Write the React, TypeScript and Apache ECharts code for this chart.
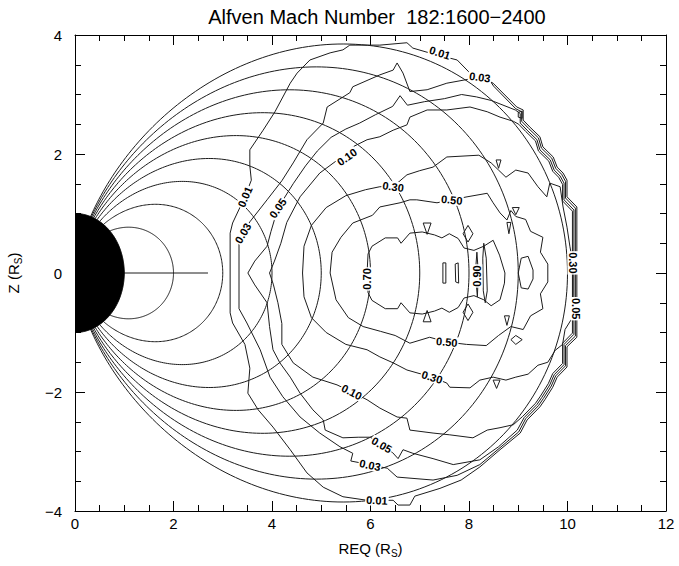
import { useEffect, useRef } from 'react';
import * as echarts from 'echarts';

type Pt = [number, number];

const titleText = 'Alfven Mach Number  182:1600\u22122400';
const xRange = [0, 12];
const yRange = [-4, 4];
const tickStep = 2;

// Dipole field lines, labelled by equatorial crossing distance L (R_S)
const fieldShells = [2, 3, 4, 5, 6, 7, 8, 9, 10];
const planetRadius = 1;
const equatorSegment: Pt[] = [[1.0, 0], [2.7, 0]];

// Alfven Mach number contours (REQ, Z) in R_S
const contour001: Pt[] = [
  [3.15, 0], [3.15, 0.67], [3.2, 0.84], [3.45, 1.28], [3.58, 1.56], [3.55, 1.8], [3.55, 2.07],
  [3.82, 2.4], [4.06, 2.71], [4.37, 3.19], [4.51, 3.36], [4.77, 3.58], [5.18, 3.7], [5.44, 3.75],
  [5.58, 3.83], [6.19, 3.83], [6.74, 3.87], [6.86, 3.78], [7.15, 3.71], [7.76, 3.58], [8.02, 3.36],
  [8.22, 3.3], [8.49, 3.19], [8.97, 2.79], [9.1, 2.74], [9.1, 2.57], [9.24, 2.45], [9.44, 2.29],
  [9.5, 2.12], [9.71, 1.95], [9.79, 1.78], [9.91, 1.68], [9.99, 1.56], [9.99, 1.28], [10.19, 1.11],
  [10.19, -1.08], [9.99, -1.24], [9.99, -1.58], [9.79, -1.75], [9.7, -1.92], [9.54, -2.13],
  [9.44, -2.25], [9.18, -2.47], [9.04, -2.69], [8.63, -2.97], [8.22, -3.26], [7.84, -3.48],
  [7.41, -3.62], [6.9, -3.75], [6.8, -3.9], [6.56, -3.9], [6.46, -3.82], [5.93, -3.82],
  [5.44, -3.76], [5.04, -3.6], [4.71, -3.36], [4.37, -2.97], [4.02, -2.59], [3.72, -2.3],
  [3.51, -2.02], [3.55, -1.6], [3.45, -1.2], [3.2, -0.84], [3.15, -0.67], [3.15, 0],
];

const contour003: Pt[] = [
  [3.33, 0], [3.33, 0.55], [3.41, 0.67], [3.55, 0.86], [3.9, 1.23], [4.2, 1.55], [4.43, 1.85],
  [4.71, 2.24], [5.04, 2.52], [5.12, 2.79], [5.58, 3.03], [5.64, 3.13], [6.19, 3.33], [6.46, 3.41],
  [6.54, 3.53], [6.66, 3.36], [6.8, 3.05], [7.15, 3.08], [7.55, 3.19], [7.88, 3.24], [8.22, 3.29],
  [8.37, 3.3], [8.5, 3.14], [8.95, 2.76], [9.07, 2.71], [9.07, 2.55], [9.21, 2.43], [9.41, 2.27],
  [9.47, 2.1], [9.68, 1.93], [9.76, 1.76], [9.88, 1.66], [9.96, 1.54], [9.96, 1.26], [10.16, 1.09],
  [10.16, -1.06], [9.96, -1.22], [9.96, -1.56], [9.76, -1.73], [9.67, -1.9], [9.51, -2.11],
  [9.41, -2.23], [9.15, -2.45], [9.01, -2.67], [8.61, -2.95], [8.22, -3.22], [7.76, -3.4],
  [7.27, -3.48], [6.54, -3.43], [6.34, -3.28], [5.99, -3.23], [5.79, -3.19], [5.6, -3.16],
  [5.64, -3.03], [5.38, -2.92], [4.97, -2.69], [4.57, -2.42], [4.22, -2.08], [3.96, -1.75],
  [3.76, -1.29], [3.49, -0.84], [3.33, -0.6], [3.33, 0],
];

const contour005: Pt[] = [
  [3.51, 0], [3.65, 0.2], [3.9, 0.45], [3.98, 0.7], [4.12, 1.09], [4.43, 1.5], [4.68, 1.8],
  [4.92, 2.05], [5.2, 2.28], [5.5, 2.42], [5.78, 2.52], [6.1, 2.66], [6.45, 2.8], [6.6, 2.98],
  [6.75, 2.82], [7.1, 2.88], [7.5, 2.93], [7.85, 3.0], [8.15, 2.96], [8.45, 2.9], [8.94, 2.74],
  [9.04, 2.68], [9.04, 2.52], [9.18, 2.4], [9.38, 2.24], [9.44, 2.07], [9.65, 1.9], [9.73, 1.73],
  [9.85, 1.63], [9.93, 1.51], [9.93, 1.23], [10.13, 1.06], [10.13, -1.03], [9.93, -1.2],
  [9.93, -1.54], [9.73, -1.71], [9.64, -1.88], [9.48, -2.09], [9.38, -2.21], [9.12, -2.43],
  [8.98, -2.64], [8.6, -2.92], [8.22, -3.14], [7.68, -3.22], [7.27, -3.12], [6.86, -3.03],
  [6.66, -2.97], [6.56, -3.12], [6.45, -3.02], [6.23, -2.89], [6.0, -2.76], [5.75, -2.76],
  [5.44, -2.77], [5.08, -2.64], [5.04, -2.47], [4.83, -2.3], [4.57, -2.02], [4.37, -1.75],
  [4.16, -1.51], [4.02, -1.29], [3.95, -0.9], [3.9, -0.5], [3.65, -0.2], [3.51, 0],
];

const contour010: Pt[] = [
  [3.95, 0], [4.05, 0.2], [4.18, 0.5], [4.3, 0.85], [4.57, 1.28], [4.97, 1.68], [5.38, 1.93],
  [5.52, 1.95], [5.64, 2.12], [5.93, 2.24], [6.19, 2.29], [6.46, 2.4], [6.74, 2.49], [6.8, 2.62],
  [7.15, 2.74], [7.55, 2.74], [8.02, 2.79], [8.37, 2.71], [8.63, 2.62], [8.9, 2.55], [9.01, 2.5],
  [9.15, 2.38], [9.35, 2.22], [9.41, 2.05], [9.62, 1.88], [9.7, 1.71], [9.82, 1.61], [9.9, 1.49],
  [9.9, 1.21], [10.1, 1.04], [10.1, -1.01], [9.9, -1.18], [9.9, -1.52], [9.7, -1.69],
  [9.61, -1.86], [9.45, -2.07], [9.35, -2.19], [9.09, -2.41], [8.9, -2.55], [8.63, -2.6],
  [8.37, -2.64], [8.08, -2.77], [7.61, -2.72], [7.27, -2.69], [6.8, -2.64], [6.74, -2.44],
  [6.54, -2.42], [6.19, -2.27], [5.93, -2.13], [5.62, -2.0], [5.32, -1.88], [4.83, -1.75],
  [4.43, -1.51], [4.2, -1.2], [4.2, -0.85], [4.12, -0.5], [4.03, -0.2], [3.95, 0],
];

const contour030: Pt[] = [
  [4.62, 0], [4.65, 0.45], [4.8, 0.8], [5.1, 1.1], [5.5, 1.3], [5.9, 1.4], [6.19, 1.45],
  [6.46, 1.45], [6.74, 1.65], [7.0, 1.72], [7.27, 1.78], [7.55, 1.95], [8.2, 1.98], [8.45, 1.85],
  [8.6, 1.73], [8.75, 1.61], [8.95, 1.73], [9.2, 1.68], [9.4, 1.45], [9.58, 1.28], [9.64, 1.51],
  [9.85, 1.45], [9.91, 1.11], [9.99, 0.77], [10.05, 0.44], [10.11, 0.17], [10.11, -0.3],
  [10.1, -0.75], [9.95, -0.95], [9.9, -1.2], [9.75, -1.3], [9.6, -1.5], [9.4, -1.55],
  [9.2, -1.7], [8.95, -1.75], [8.75, -1.8], [8.49, -1.75], [8.22, -1.8], [8.02, -1.93],
  [7.61, -1.92], [7.55, -1.85], [7.25, -1.75], [6.74, -1.63], [6.46, -1.51], [6.19, -1.41],
  [5.93, -1.29], [5.5, -1.2], [5.1, -1.0], [4.8, -0.75], [4.65, -0.4], [4.62, 0],
];

const contour050: Pt[] = [
  [5.18, 0], [5.22, 0.35], [5.4, 0.6], [5.64, 0.84], [6.04, 0.97], [6.19, 1.11], [6.6, 1.18],
  [6.8, 1.23], [6.94, 1.23], [7.35, 1.18], [7.65, 1.23], [7.96, 1.28], [8.37, 1.34], [8.49, 1.18],
  [8.63, 1.01], [8.77, 0.89], [8.85, 1.05], [8.95, 0.95], [9.15, 0.9], [9.25, 0.7], [9.5, 0.6],
  [9.45, 0.35], [9.6, 0.15], [9.6, -0.15], [9.45, -0.35], [9.5, -0.6], [9.25, -0.72],
  [9.1, -0.95], [8.85, -0.9], [8.6, -1.05], [8.35, -1.22], [7.95, -1.2], [7.55, -1.16],
  [7.2, -1.08], [6.8, -1.18], [6.5, -1.05], [6.2, -0.98], [5.85, -0.9], [5.55, -0.75],
  [5.3, -0.45], [5.18, 0],
];

const contour070: Pt[] = [
  [5.93, 0], [5.95, 0.32], [6.03, 0.45], [6.3, 0.59], [6.55, 0.59], [6.62, 0.5], [6.8, 0.67],
  [7.05, 0.69], [7.3, 0.64], [7.45, 0.59], [7.6, 0.66], [7.78, 0.58], [7.9, 0.42], [8.1, 0.38],
  [8.3, 0.45], [8.49, 0.55], [8.62, 0.3], [8.73, 0.0], [8.72, -0.17], [8.63, -0.45],
  [8.45, -0.55], [8.3, -0.45], [8.1, -0.38], [7.9, -0.42], [7.78, -0.58], [7.6, -0.66],
  [7.45, -0.59], [7.3, -0.64], [7.05, -0.69], [6.8, -0.67], [6.62, -0.5], [6.55, -0.6],
  [6.3, -0.6], [6.03, -0.46], [5.95, -0.33], [5.93, 0],
];

const contour090: Pt[][] = [
  [[7.47, 0.17], [7.53, 0.17], [7.53, -0.17], [7.47, -0.17], [7.47, 0.17]],
  [[7.72, 0.15], [7.78, 0.17], [7.79, -0.17], [7.73, -0.15], [7.72, 0.15]],
  [[8.16, 0.35], [8.19, 0.0], [8.17, -0.4], [8.13, 0.0], [8.16, 0.35]],
  [[8.3, 0.5], [8.35, 0.25], [8.37, -0.3], [8.33, -0.5], [8.29, -0.3], [8.28, 0.25], [8.3, 0.5]],
];

// small closed contour islands in the outer magnetosphere
const islands: Pt[][] = [
  [[7.07, 0.84], [7.23, 0.84], [7.15, 0.65], [7.07, 0.84]],
  [[7.07, -0.82], [7.23, -0.82], [7.15, -0.63], [7.07, -0.82]],
  [[7.98, 0.8], [8.08, 0.66], [7.98, 0.52], [7.88, 0.66], [7.98, 0.8]],
  [[7.98, -0.52], [8.08, -0.66], [7.98, -0.8], [7.88, -0.66], [7.98, -0.52]],
  [[9.06, 0.25], [9.2, 0.28], [9.3, 0.05], [9.3, -0.1], [9.2, -0.27], [9.06, -0.25], [9.0, 0.0], [9.06, 0.25]],
  [[8.55, 1.9], [8.65, 1.9], [8.6, 1.76], [8.55, 1.9]],
  [[8.88, 1.1], [9.02, 1.1], [8.95, 0.98], [8.88, 1.1]],
  [[8.77, 0.85], [8.85, 0.85], [8.81, 0.66], [8.77, 0.85]],
  [[8.72, -0.72], [8.82, -0.72], [8.77, -0.88], [8.72, -0.72]],
  [[8.85, -1.12], [8.95, -1.05], [9.08, -1.12], [8.95, -1.2], [8.85, -1.12]],
  [[8.49, -1.8], [8.63, -1.8], [8.56, -1.94], [8.49, -1.8]],
  [[9.0, 2.7], [9.08, 2.72], [9.08, 2.6], [9.0, 2.62], [9.0, 2.7]],
  [[10.12, -0.45], [10.25, -0.5], [10.22, -0.68], [10.12, -0.64], [10.12, -0.45]],
];

// contour labels: text, REQ, Z, text angle (deg)
const contourLabels: [string, number, number, number][] = [
  ['0.01', 3.45, 1.28, 67],
  ['0.03', 3.41, 0.67, 60],
  ['0.05', 4.12, 1.09, 55],
  ['0.10', 5.52, 1.95, 35],
  ['0.30', 6.46, 1.45, -8],
  ['0.50', 7.65, 1.23, -6],
  ['0.01', 7.41, 3.7, -18],
  ['0.03', 8.22, 3.29, -8],
  ['0.70', 5.93, -0.1, 90],
  ['0.90', 8.16, -0.05, 90],
  ['0.30', 10.11, 0.17, -90],
  ['0.10', 5.62, -2.0, -27],
  ['0.05', 6.23, -2.89, -30],
  ['0.03', 5.99, -3.23, -12],
  ['0.01', 6.13, -3.82, -3],
  ['0.30', 7.25, -1.75, -18],
  ['0.50', 7.55, -1.16, -5],
  ['0.05', 10.17, -0.6, -90],
];

const FONT = '"Liberation Sans", Arial, Helvetica, sans-serif';
const LINE = '#1c1c1c';

const clipTo = (params: any) => {
  const cs = params.coordSys;
  return { type: 'rect', shape: { x: cs.x, y: cs.y, width: cs.width, height: cs.height } };
};

function ringSeries(rings: Pt[][], z: number, width = 1) {
  return {
    type: 'custom',
    coordinateSystem: 'cartesian2d',
    silent: true,
    z,
    data: rings.map((r, i) => [r[0][0], r[0][1], i]),
    renderItem: (params: any, api: any) => {
      const ring = rings[params.dataIndex];
      return {
        type: 'group',
        clipPath: clipTo(params),
        children: [
          {
            type: 'polyline',
            shape: { points: ring.map((p) => api.coord(p)) },
            style: { stroke: LINE, lineWidth: width, fill: null },
          },
        ],
      };
    },
  };
}

const fieldSeries = {
  type: 'custom',
  coordinateSystem: 'cartesian2d',
  silent: true,
  z: 2,
  data: fieldShells.map((L) => [L, 0]),
  renderItem: (params: any, api: any) => {
    const L = fieldShells[params.dataIndex];
    // dipole line r = L cos^2(lat), from one footprint on the planet to the other
    const lat0 = Math.acos(Math.sqrt(planetRadius / L));
    const pts: number[][] = [];
    const n = 240;
    for (let k = 0; k <= n; k++) {
      const lat = -lat0 + (2 * lat0 * k) / n;
      const r = L * Math.cos(lat) * Math.cos(lat);
      pts.push(api.coord([r * Math.cos(lat), r * Math.sin(lat)]));
    }
    return {
      type: 'group',
      clipPath: clipTo(params),
      children: [{ type: 'polyline', shape: { points: pts }, style: { stroke: LINE, lineWidth: 1, fill: null } }],
    };
  },
};

const planetSeries = {
  type: 'custom',
  coordinateSystem: 'cartesian2d',
  silent: true,
  z: 6,
  data: [[0, 0, planetRadius]],
  renderItem: (params: any, api: any) => {
    const pts: number[][] = [];
    for (let k = 0; k <= 180; k++) {
      const a = -Math.PI / 2 + (Math.PI * k) / 180;
      pts.push(api.coord([planetRadius * Math.cos(a), planetRadius * Math.sin(a)]));
    }
    pts.push(api.coord([0, -planetRadius]));
    return {
      type: 'group',
      clipPath: clipTo(params),
      children: [{ type: 'polygon', shape: { points: pts }, style: { fill: '#000', stroke: '#000', lineWidth: 1 } }],
    };
  },
};

const labelSeries = {
  type: 'custom',
  coordinateSystem: 'cartesian2d',
  silent: true,
  z: 8,
  data: contourLabels.map((l) => [l[1], l[2]]),
  renderItem: (params: any, api: any) => {
    const [text, x, z, angle] = contourLabels[params.dataIndex];
    const [px, py] = api.coord([x, z]);
    return {
      type: 'text',
      x: px,
      y: py,
      rotation: (angle * Math.PI) / 180,
      style: {
        text,
        fill: '#000',
        font: `bold 11px ${FONT}`,
        align: 'center',
        verticalAlign: 'middle',
        textAlign: 'center',
        textVerticalAlign: 'middle',
        backgroundColor: '#fff',
        padding: [0, 1],
      },
    };
  },
};

const axisCommon = {
  type: 'value',
  interval: tickStep,
  axisLine: { show: true, onZero: false, lineStyle: { color: '#000', width: 1 } },
  axisTick: { show: true, inside: true, length: 10, lineStyle: { color: '#000', width: 1 } },
  minorTick: { show: true, splitNumber: 4, length: 6, lineStyle: { color: '#000', width: 1 } },
  splitLine: { show: false },
};

const tickLabel = (v: number) => (v < 0 ? `\u2212${Math.abs(v)}` : String(v));

const option = {
  animation: false,
  backgroundColor: '#fff',
  title: {
    text: titleText,
    left: 372,
    textAlign: 'center',
    top: 2,
    textStyle: { fontFamily: FONT, fontSize: 20, fontWeight: 'normal', color: '#000' },
  },
  grid: { left: 75, top: 35, right: 13, bottom: 55, containLabel: false, outerBoundsMode: 'none' },
  xAxis: [
    {
      ...axisCommon,
      position: 'bottom',
      min: xRange[0],
      max: xRange[1],
      axisLabel: { color: '#000', fontFamily: FONT, fontSize: 15, margin: 5, formatter: tickLabel },
      name: 'REQ (R{s|S})',
      nameLocation: 'middle',
      nameGap: 28,
      nameTextStyle: {
        color: '#000',
        fontFamily: FONT,
        fontSize: 15,
        rich: { s: { fontFamily: FONT, fontSize: 10, color: '#000', padding: [9, 0, 0, 0] } },
      },
    },
    {
      ...axisCommon,
      position: 'top',
      min: xRange[0],
      max: xRange[1],
      axisLabel: { show: false },
    },
  ],
  yAxis: [
    {
      ...axisCommon,
      position: 'left',
      min: yRange[0],
      max: yRange[1],
      axisLabel: { color: '#000', fontFamily: FONT, fontSize: 15, margin: 13, formatter: tickLabel },
      name: 'Z (R{s|S})',
      nameLocation: 'middle',
      nameGap: 52,
      nameTextStyle: {
        color: '#000',
        fontFamily: FONT,
        fontSize: 15,
        rich: { s: { fontFamily: FONT, fontSize: 10, color: '#000', padding: [9, 0, 0, 0] } },
      },
    },
    {
      ...axisCommon,
      position: 'right',
      min: yRange[0],
      max: yRange[1],
      axisLabel: { show: false },
    },
  ],
  series: [
    fieldSeries,
    ringSeries([equatorSegment], 2),
    ringSeries([contour001, contour003, contour005, contour010], 3),
    ringSeries([contour030, contour050, contour070], 3),
    ringSeries(contour090, 3),
    ringSeries(islands, 3),
    planetSeries,
    labelSeries,
  ],
};

export default function App() {
  const ref = useRef<HTMLDivElement>(null);
  useEffect(() => {
    const chart = echarts.init(ref.current!, null, { renderer: 'svg' });
    chart.setOption(option as any);
    return () => chart.dispose();
  }, []);
  return (
    <div
      ref={ref}
      style={{ position: 'fixed', left: 0, top: 0, width: 679, height: 566, background: '#fff' }}
    />
  );
}
